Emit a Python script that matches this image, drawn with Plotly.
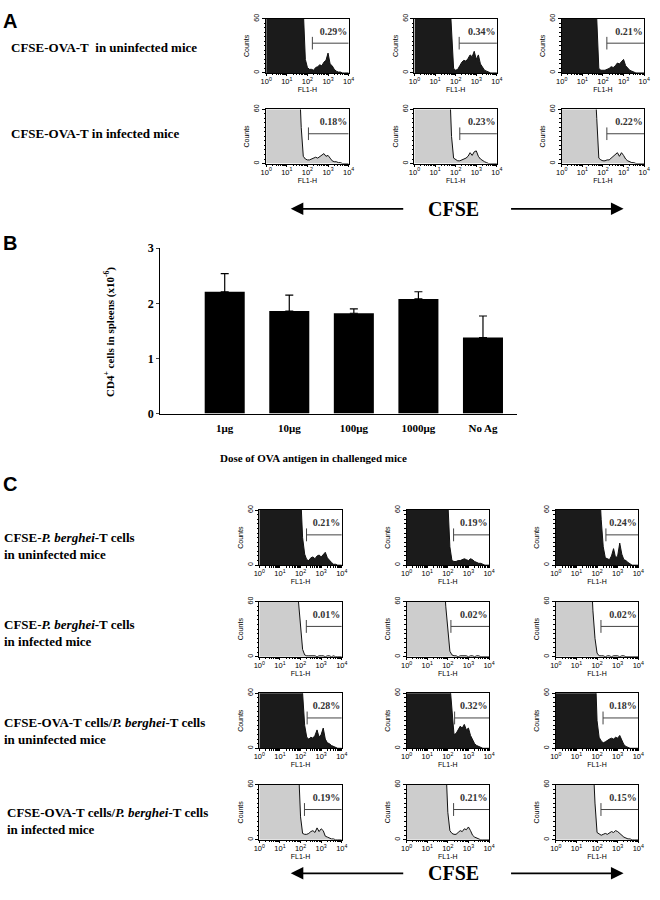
import plotly.graph_objects as go

# ---------------- data ----------------
LOG_BINS = [0.0, 0.1, 0.2, 0.3, 0.4, 0.5, 0.6, 0.7, 0.8, 0.9,
            1.0, 1.1, 1.2, 1.3, 1.4, 1.5, 1.6, 1.7, 1.8, 1.9,
            2.0, 2.1, 2.2, 2.3, 2.4, 2.5, 2.6, 2.7, 2.8, 2.9,
            3.0, 3.1, 3.2, 3.3, 3.4, 3.5, 3.6, 3.7, 3.8, 3.9, 4.0]
X_TICKS = [1, 10, 100, 1000, 10000]
X_TICKTEXT = ["10<sup>0</sup>", "10<sup>1</sup>", "10<sup>2</sup>", "10<sup>3</sup>", "10<sup>4</sup>"]

# Panel A histograms (counts per log bin)
A_UNINF_1 = [92, 94, 95, 96, 97, 98, 98, 99, 99, 99, 99, 99, 99, 98, 97, 96, 95, 95, 70, 15,
             6, 4, 4, 3, 6, 7, 9, 8, 12, 14, 22, 10, 8, 4, 2, 1, 1, 0, 0, 0, 0]
A_UNINF_2 = [92, 94, 95, 96, 97, 98, 98, 99, 99, 99, 99, 99, 99, 98, 97, 96, 95, 90, 50, 5,
             3, 4, 8, 12, 14, 13, 16, 20, 18, 24, 15, 20, 10, 6, 3, 2, 1, 0, 0, 0, 0]
A_UNINF_3 = [92, 94, 95, 96, 97, 98, 98, 99, 99, 99, 99, 99, 99, 98, 97, 96, 95, 60, 5, 3,
             3, 3, 4, 5, 7, 6, 8, 11, 10, 13, 15, 8, 5, 3, 2, 1, 0, 0, 0, 0, 0]
A_INF_1 = [92, 94, 95, 96, 97, 98, 98, 99, 99, 99, 99, 99, 99, 98, 97, 96, 95, 40, 8, 5,
           4, 4, 5, 6, 7, 6, 8, 9, 11, 8, 9, 6, 3, 2, 2, 1, 1, 0, 0, 0, 0]
A_INF_2 = [92, 94, 95, 96, 97, 98, 98, 99, 99, 99, 99, 99, 99, 98, 97, 96, 95, 90, 30, 6,
           4, 3, 3, 4, 5, 6, 8, 12, 9, 13, 14, 8, 5, 3, 2, 1, 0, 0, 0, 0, 0]
A_INF_3 = [92, 94, 95, 96, 97, 98, 98, 99, 99, 99, 99, 99, 99, 98, 97, 96, 95, 50, 6, 4,
           3, 3, 4, 4, 6, 7, 9, 12, 8, 12, 9, 5, 3, 2, 1, 1, 0, 0, 0, 0, 0]
A_PCT = ["0.29%", "0.34%", "0.21%", "0.18%", "0.23%", "0.22%"]
A_GATE = [2.24, 2.17, 2.19, 2.05, 2.2, 2.19]

# Panel B bar chart
B_DOSES = ["1μg", "10μg", "100μg", "1000μg", "No Ag"]
B_CD4 = [2.21, 1.86, 1.82, 2.08, 1.38]
B_ERR = [0.33, 0.29, 0.08, 0.13, 0.39]

# Panel C histograms
C_PB_UNINF_1 = [92, 94, 95, 96, 97, 98, 98, 99, 99, 99, 99, 99, 99, 99, 98, 98, 97, 97, 96, 95,
                80, 30, 12, 6, 5, 8, 9, 7, 10, 11, 9, 12, 14, 8, 5, 3, 1, 1, 0, 0, 0]
C_PB_UNINF_2 = [92, 94, 95, 96, 97, 98, 98, 99, 99, 99, 99, 99, 99, 99, 98, 98, 97, 97, 96, 95,
                70, 20, 5, 4, 4, 5, 5, 6, 7, 6, 5, 7, 6, 4, 3, 2, 2, 1, 0, 0, 0]
C_PB_UNINF_3 = [92, 94, 95, 96, 97, 98, 98, 99, 99, 99, 99, 99, 99, 99, 98, 98, 97, 97, 96, 95,
                96, 94, 50, 20, 8, 7, 6, 10, 18, 8, 10, 24, 12, 6, 5, 3, 1, 0, 0, 0, 0]
C_PB_INF_1 = [92, 94, 95, 96, 97, 98, 98, 99, 99, 99, 99, 99, 99, 99, 98, 98, 97, 97, 95, 60,
              30, 8, 2, 1, 1, 1, 1, 1, 0, 1, 1, 1, 0, 1, 1, 0, 1, 0, 0, 0, 0]
C_PB_INF_2 = [92, 94, 95, 96, 97, 98, 98, 99, 99, 99, 99, 99, 99, 99, 98, 98, 97, 97, 95, 55,
              25, 6, 2, 1, 1, 0, 1, 1, 1, 1, 0, 1, 1, 0, 1, 1, 0, 0, 0, 0, 0]
C_PB_INF_3 = [92, 94, 95, 96, 97, 98, 98, 99, 99, 99, 99, 99, 99, 99, 98, 98, 97, 97, 50, 20,
              4, 1, 1, 1, 0, 1, 1, 0, 1, 1, 1, 0, 1, 1, 0, 0, 0, 0, 0, 0, 0]
C_MIX_UNINF_1 = [92, 94, 95, 96, 97, 98, 98, 99, 99, 99, 99, 99, 99, 99, 98, 98, 97, 97, 96, 96,
                 95, 60, 25, 12, 10, 12, 11, 14, 20, 12, 15, 22, 10, 6, 5, 3, 2, 1, 0, 0, 0]
C_MIX_UNINF_2 = [92, 94, 95, 96, 97, 98, 98, 99, 99, 99, 99, 99, 99, 99, 98, 98, 97, 97, 96, 96,
                 95, 70, 40, 15, 16, 20, 24, 22, 26, 20, 22, 14, 10, 5, 3, 2, 1, 0, 0, 0, 0]
C_MIX_UNINF_3 = [92, 94, 95, 96, 97, 98, 98, 99, 99, 99, 99, 99, 99, 99, 98, 98, 97, 97, 96, 95,
                 30, 12, 8, 6, 7, 9, 10, 11, 10, 12, 11, 14, 8, 4, 2, 1, 0, 0, 0, 0, 0]
C_MIX_INF_1 = [92, 94, 95, 96, 97, 98, 98, 99, 99, 99, 99, 99, 99, 99, 98, 98, 97, 97, 96, 80,
               25, 7, 6, 6, 7, 9, 10, 8, 13, 9, 12, 10, 4, 3, 2, 1, 1, 0, 0, 0, 0]
C_MIX_INF_2 = [92, 94, 95, 96, 97, 98, 98, 99, 99, 99, 99, 99, 99, 99, 98, 98, 97, 97, 96, 85,
               30, 10, 7, 6, 6, 8, 10, 9, 12, 11, 14, 10, 5, 3, 2, 1, 0, 0, 0, 0, 0]
C_MIX_INF_3 = [92, 94, 95, 96, 97, 98, 98, 99, 99, 99, 99, 99, 99, 99, 98, 98, 97, 97, 90, 40,
               8, 6, 5, 6, 7, 6, 8, 9, 8, 10, 9, 7, 4, 3, 2, 1, 1, 0, 0, 0, 0]
C_PCT = ["0.21%", "0.19%", "0.24%", "0.01%", "0.02%", "0.02%",
         "0.28%", "0.32%", "0.18%", "0.19%", "0.21%", "0.15%"]
C_GATE = [2.29, 2.28, 2.43, 2.28, 2.15, 2.19, 2.32, 2.33, 2.29, 2.19, 2.28, 2.19]

A_ROW_LABELS = ["CFSE-OVA-T&nbsp; in uninfected mice", "CFSE-OVA-T in infected mice"]
C_ROW_LABELS = ["CFSE-<i>P. berghei</i>-T cells<br>in uninfected mice",
                "CFSE-<i>P. berghei</i>-T cells<br>in infected mice",
                "CFSE-OVA-T cells/<i>P. berghei</i>-T cells<br>in uninfected mice",
                "CFSE-OVA-T cells/<i>P. berghei</i>-T cells<br>in infected mice"]

# ---------------- layout helpers ----------------
W, H = 660, 900
SERIF = "Liberation Serif, Times New Roman, serif"
SANS = "Liberation Sans, Arial, sans-serif"


def px(x):
    return x / W


def py(y):
    return 1 - y / H


fig = go.Figure()
axes = {}
annotations = []
axis_counter = [1]  # axis 1 is used by the bar chart

# ---- Panel B (axis 1) ----
fig.add_trace(go.Bar(
    x=B_DOSES, y=B_CD4, width=0.62,
    marker=dict(color="black", line=dict(width=0)),
    error_y=dict(type="data", array=B_ERR, arrayminus=[0] * len(B_ERR), symmetric=False,
                 color="black", thickness=1.2, width=4),
    xaxis="x", yaxis="y", showlegend=False))
axes["xaxis"] = dict(domain=[px(157), px(520)], anchor="y", type="category", range=[-1, 4.52],
                     showline=True, linecolor="black", linewidth=1, ticks="", showgrid=False,
                     zeroline=False, tickfont=dict(family=SERIF, size=11, color="black", weight="bold"),
                     ticklabelstandoff=4)
axes["yaxis"] = dict(domain=[py(413), py(245)], anchor="x", range=[0, 3], tickvals=[0, 1, 2, 3],
                     showline=True, linecolor="black", linewidth=1, ticks="outside", ticklen=3,
                     showgrid=False, zeroline=False,
                     tickfont=dict(family=SERIF, size=12, color="black", weight="bold"))
annotations.append(dict(text="CD4<sup>+</sup> cells in spleens (x10<sup>-6</sup>)", x=px(106), y=py(330),
                        xref="paper", yref="paper", showarrow=False, textangle=-90,
                        xanchor="center", yanchor="middle",
                        font=dict(family=SERIF, size=11, color="black", weight="bold")))
annotations.append(dict(text="Dose of OVA antigen in challenged mice", x=px(313), y=py(458),
                        xref="paper", yref="paper", showarrow=False,
                        xanchor="center", yanchor="middle",
                        font=dict(family=SERIF, size=11, color="black", weight="bold")))


def add_hist(L, T, counts, dark, pct, gate, w=84, h=56):
    axis_counter[0] += 1
    n = axis_counter[0]
    xr, yr = f"x{n}", f"y{n}"
    fill = "#1b1b1b" if dark else "#cdcdcd"
    xs = [10 ** v for v in LOG_BINS]
    fig.add_trace(go.Scatter(x=xs, y=counts, mode="lines", fill="tozeroy", fillcolor=fill,
                             line=dict(color="#111", width=1), xaxis=xr, yaxis=yr,
                             showlegend=False, hoverinfo="skip"))
    g = 10 ** gate
    fig.add_trace(go.Scatter(x=[g, g, None, g, 10 ** 4], y=[26, 40, None, 33, 33], mode="lines",
                             line=dict(color="#444", width=1), xaxis=xr, yaxis=yr,
                             showlegend=False, hoverinfo="skip"))
    fig.add_trace(go.Scatter(x=[10 ** 3.93], y=[45], mode="text", text=[pct],
                             textposition="middle left",
                             textfont=dict(family=SERIF, size=10, color="#333", weight="bold"),
                             xaxis=xr, yaxis=yr, showlegend=False, hoverinfo="skip"))
    axes[f"xaxis{n}"] = dict(domain=[px(L), px(L + w)], anchor=yr, type="log", range=[0, 4],
                             tickvals=X_TICKS, ticktext=X_TICKTEXT,
                             tickfont=dict(family=SANS, size=7.5, color="black"),
                             ticks="outside", ticklen=2, tickwidth=1, tickcolor="black",
                             ticklabelstandoff=-1,
                             minor=dict(ticks="outside", ticklen=1.5, dtick="D1", tickcolor="black"),
                             showline=True, mirror=True, linecolor="black", linewidth=1,
                             showgrid=False, zeroline=False,
                             title=dict(text="FL1-H", font=dict(family=SANS, size=7, color="black"),
                                        standoff=0))
    axes[f"yaxis{n}"] = dict(domain=[py(T + h), py(T)], anchor=xr, range=[0, 60], tickvals=[0, 60],
                             tickangle=-90, tickfont=dict(family=SANS, size=7, color="black"),
                             ticks="outside", ticklen=3, tickwidth=1, tickcolor="black",
                             minor=dict(ticks="outside", ticklen=1.5, dtick=5, tickcolor="black"),
                             showline=True, mirror=True, linecolor="black", linewidth=1,
                             showgrid=False, zeroline=False,
                             title=dict(text="Counts", font=dict(family=SANS, size=7, color="black"),
                                        standoff=2))


# ---- Panel A ----
A_DATA = [A_UNINF_1, A_UNINF_2, A_UNINF_3, A_INF_1, A_INF_2, A_INF_3]
A_COLS = [265, 416, 566]
A_ROWS = [12, 104]
for i, counts in enumerate(A_DATA):
    r, c = divmod(i, 3)
    add_hist(A_COLS[c], A_ROWS[r], counts, r == 0, A_PCT[i], A_GATE[i], h=55)

# ---- Panel C ----
C_DATA = [C_PB_UNINF_1, C_PB_UNINF_2, C_PB_UNINF_3, C_PB_INF_1, C_PB_INF_2, C_PB_INF_3,
          C_MIX_UNINF_1, C_MIX_UNINF_2, C_MIX_UNINF_3, C_MIX_INF_1, C_MIX_INF_2, C_MIX_INF_3]
C_COLS = [258, 408, 560]
C_ROWS = [511, 604, 697, 790]
for i, counts in enumerate(C_DATA):
    r, c = divmod(i, 3)
    add_hist(C_COLS[c], C_ROWS[r], counts, r in (0, 2), C_PCT[i], C_GATE[i])

# ---- text annotations ----
for lbl, y in zip(["A", "B", "C"], [14, 240, 485]):
    annotations.append(dict(text=lbl, x=px(-4), y=py(y), xref="paper", yref="paper", showarrow=False,
                            xanchor="left", yanchor="middle", borderpad=0,
                            font=dict(family=SANS, size=20, color="black", weight="bold")))
for lbl, y in zip(A_ROW_LABELS, [41, 129]):
    annotations.append(dict(text=lbl, x=px(4), y=py(y), xref="paper", yref="paper", showarrow=False,
                            xanchor="left", yanchor="middle", align="left", borderpad=0,
                            font=dict(family=SERIF, size=13, color="black", weight="bold")))
for lbl, y, x in zip(C_ROW_LABELS, [548, 636, 735, 827], [-3, -3, -3, 0]):
    annotations.append(dict(text=lbl, x=px(x), y=py(y), xref="paper", yref="paper", showarrow=False,
                            xanchor="left", yanchor="middle", align="left", borderpad=0,
                            font=dict(family=SERIF, size=13, color="black", weight="bold")))

for yy in [205, 880]:
    annotations.append(dict(text="CFSE", x=px(456), y=py(yy), xref="paper", yref="paper", showarrow=False,
                            xanchor="center", yanchor="middle",
                            font=dict(family=SERIF, size=20, color="black", weight="bold")))
    annotations.append(dict(text="", x=px(290), y=py(yy), xref="paper", yref="paper", showarrow=True,
                            ax=114, ay=0, arrowhead=2, arrowsize=1.4, arrowwidth=1.8, arrowcolor="black"))
    annotations.append(dict(text="", x=px(629), y=py(yy), xref="paper", yref="paper", showarrow=True,
                            ax=-114, ay=0, arrowhead=2, arrowsize=1.4, arrowwidth=1.8, arrowcolor="black"))

fig.update_layout(width=W, height=H, margin=dict(l=0, r=0, t=0, b=0),
                  paper_bgcolor="white", plot_bgcolor="white",
                  annotations=annotations, **axes)

fig.write_html("out.html", config={"displayModeBar": False},
               post_script="document.body.style.margin='0';")
